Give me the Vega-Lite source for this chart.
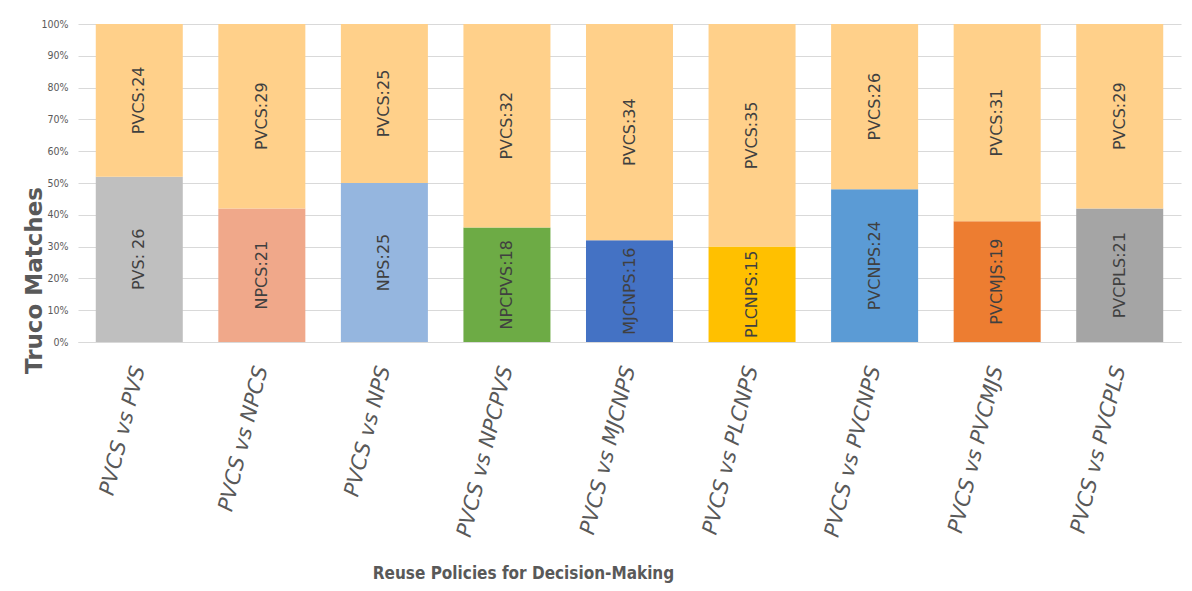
{
  "$schema": "https://vega.github.io/schema/vega-lite/v6.json",
  "autosize": {"type": "none"},
  "width": 1103,
  "height": 318,
  "padding": {"left": 78, "top": 24, "right": 11, "bottom": 249},
  "background": "white",
  "data": {
    "values": [
      {"pair": "PVCS vs PVS", "policy": "PVS", "label": "PVS: 26", "value": 26, "order": 1},
      {"pair": "PVCS vs PVS", "policy": "PVCS", "label": "PVCS:24", "value": 24, "order": 2},
      {"pair": "PVCS vs NPCS", "policy": "NPCS", "label": "NPCS:21", "value": 21, "order": 1},
      {"pair": "PVCS vs NPCS", "policy": "PVCS", "label": "PVCS:29", "value": 29, "order": 2},
      {"pair": "PVCS vs NPS", "policy": "NPS", "label": "NPS:25", "value": 25, "order": 1},
      {"pair": "PVCS vs NPS", "policy": "PVCS", "label": "PVCS:25", "value": 25, "order": 2},
      {"pair": "PVCS vs NPCPVS", "policy": "NPCPVS", "label": "NPCPVS:18", "value": 18, "order": 1},
      {"pair": "PVCS vs NPCPVS", "policy": "PVCS", "label": "PVCS:32", "value": 32, "order": 2},
      {"pair": "PVCS vs MJCNPS", "policy": "MJCNPS", "label": "MJCNPS:16", "value": 16, "order": 1},
      {"pair": "PVCS vs MJCNPS", "policy": "PVCS", "label": "PVCS:34", "value": 34, "order": 2},
      {"pair": "PVCS vs PLCNPS", "policy": "PLCNPS", "label": "PLCNPS:15", "value": 15, "order": 1},
      {"pair": "PVCS vs PLCNPS", "policy": "PVCS", "label": "PVCS:35", "value": 35, "order": 2},
      {"pair": "PVCS vs PVCNPS", "policy": "PVCNPS", "label": "PVCNPS:24", "value": 24, "order": 1},
      {"pair": "PVCS vs PVCNPS", "policy": "PVCS", "label": "PVCS:26", "value": 26, "order": 2},
      {"pair": "PVCS vs PVCMJS", "policy": "PVCMJS", "label": "PVCMJS:19", "value": 19, "order": 1},
      {"pair": "PVCS vs PVCMJS", "policy": "PVCS", "label": "PVCS:31", "value": 31, "order": 2},
      {"pair": "PVCS vs PVCPLS", "policy": "PVCPLS", "label": "PVCPLS:21", "value": 21, "order": 1},
      {"pair": "PVCS vs PVCPLS", "policy": "PVCS", "label": "PVCS:29", "value": 29, "order": 2}
    ]
  },
  "transform": [
    {"stack": "value", "groupby": ["pair"], "sort": [{"field": "order", "order": "ascending"}], "offset": "normalize", "as": ["y0", "y1"]},
    {"calculate": "(datum.y0 + datum.y1) / 2", "as": "ymid"}
  ],
  "encoding": {
    "x": {
      "field": "pair",
      "type": "nominal",
      "sort": null,
      "scale": {"paddingInner": 0.29, "paddingOuter": 0.145},
      "axis": {
        "title": "Reuse Policies for Decision-Making",
        "titleFont": "DejaVu Sans Condensed",
        "titleFontSize": 17,
        "titleFontWeight": "bold",
        "titleColor": "#595959",
        "titleX": 445,
        "titleY": 231,
        "titleAlign": "center",
        "titleBaseline": "middle",
        "labelAngle": -76,
        "labelAlign": "right",
        "labelBaseline": "middle",
        "labelPadding": 24,
        "labelFont": "DejaVu Sans",
        "labelFontStyle": "italic",
        "labelFontSize": 21,
        "labelColor": "#595959",
        "labelOverlap": false,
        "labelLimit": 400,
        "ticks": false,
        "domain": true,
        "domainColor": "#D9D9D9",
        "grid": false
      }
    }
  },
  "layer": [
    {
      "mark": {"type": "bar"},
      "encoding": {
        "y": {
          "field": "y0",
          "type": "quantitative",
          "scale": {"domain": [0, 1], "nice": false},
          "axis": {
            "title": "Truco Matches",
            "titleFont": "DejaVu Sans",
            "titleFontSize": 23,
            "titleFontWeight": "bold",
            "titleColor": "#595959",
            "titleAngle": -90,
            "titleX": -44,
            "titleY": 256,
            "titleAlign": "center",
            "titleBaseline": "middle",
            "format": ".0%",
            "values": [0, 0.1, 0.2, 0.3, 0.4, 0.5, 0.6, 0.7, 0.8, 0.9, 1],
            "labelOverlap": false,
            "labelFont": "DejaVu Sans Condensed",
            "labelFontSize": 10.5,
            "labelColor": "#595959",
            "labelPadding": 10,
            "ticks": false,
            "domain": false,
            "grid": true,
            "gridColor": "#D9D9D9",
            "gridWidth": 1
          }
        },
        "y2": {"field": "y1"},
        "color": {
          "field": "policy",
          "type": "nominal",
          "legend": null,
          "scale": {
            "domain": ["PVS", "NPCS", "NPS", "NPCPVS", "MJCNPS", "PLCNPS", "PVCNPS", "PVCMJS", "PVCPLS", "PVCS"],
            "range": ["#BFBFBF", "#F0A88A", "#95B6DF", "#6DAB45", "#4472C4", "#FFC000", "#5B9BD5", "#ED7D31", "#A5A5A5", "#FFD08A"]
          }
        }
      }
    },
    {
      "mark": {"type": "text", "angle": 270, "font": "DejaVu Sans", "fontSize": 16, "color": "#404040", "align": "center", "baseline": "middle"},
      "encoding": {
        "y": {
          "field": "ymid",
          "type": "quantitative",
          "axis": {
            "title": "Truco Matches",
            "titleFont": "DejaVu Sans",
            "titleFontSize": 23,
            "titleFontWeight": "bold",
            "titleColor": "#595959",
            "titleAngle": -90,
            "titleX": -44,
            "titleY": 256,
            "titleAlign": "center",
            "titleBaseline": "middle",
            "format": ".0%",
            "values": [0, 0.1, 0.2, 0.3, 0.4, 0.5, 0.6, 0.7, 0.8, 0.9, 1],
            "labelOverlap": false,
            "labelFont": "DejaVu Sans Condensed",
            "labelFontSize": 10.5,
            "labelColor": "#595959",
            "labelPadding": 10,
            "ticks": false,
            "domain": false,
            "grid": true,
            "gridColor": "#D9D9D9",
            "gridWidth": 1
          }
        },
        "text": {"field": "label", "type": "nominal"}
      }
    }
  ],
  "config": {"view": {"stroke": null}}
}
